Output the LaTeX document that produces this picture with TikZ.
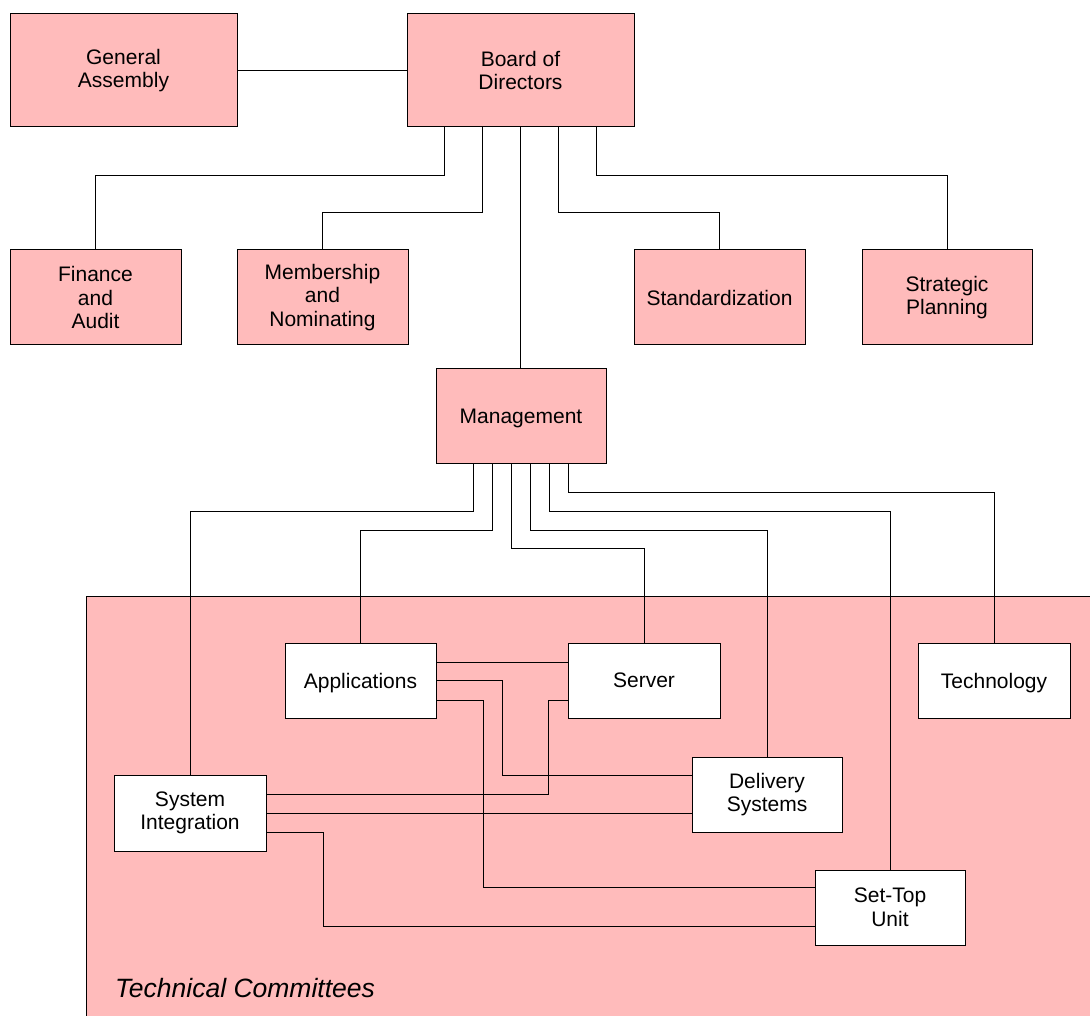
\documentclass[tikz,border=0pt]{standalone}
\usepackage{fontspec}
\setmainfont{Liberation Sans}
\usetikzlibrary{calc}
\definecolor{boxpink}{RGB}{255,187,187}
\tikzset{
  box/.style={draw=black, line width=1pt, align=center, inner sep=0pt,
    font=\fontsize{21}{23.5}\selectfont},
  pinkbox/.style={box, fill=boxpink},
  whitebox/.style={box, fill=white},
  nodepth/.style={text depth=0pt},
  conn/.style={draw=black, line width=1pt},
}
\begin{document}
\begin{tikzpicture}[x=1pt,y=-1pt]
\useasboundingbox (0,0) rectangle (1090,1016);
% Technical committees area
\fill[boxpink] (86,596) rectangle (1100,1030);
\draw[conn] (86,1030) -- (86,596) -- (1100,596);
\node[anchor=base west, font=\fontsize{26.5}{30}\selectfont\itshape, inner sep=0pt] (tclabel) at (115,997) {Technical Committees};

% upper boxes
\node[pinkbox, minimum width=227, minimum height=113] (ga) at (123.5,70.5) {General\\Assembly};
\node[pinkbox, minimum width=227, minimum height=113] (bod) at (520.5,70.5) {Board of\\Directors};
\node[pinkbox, minimum width=171, minimum height=95] (fin) at (95.5,297.5) {Finance\\and\\Audit};
\node[pinkbox, minimum width=171, minimum height=95] (mem) at (322.5,297.5) {Membership\\and\\Nominating};
\node[pinkbox, minimum width=171, minimum height=95] (std) at (719.5,297.5) {Standardization};
\node[pinkbox, minimum width=170, minimum height=95] (sp) at (947,297.5) {Strategic\\Planning};
\node[pinkbox, nodepth, minimum width=170, minimum height=94] (mgmt) at (521,416) {Management};

% committees
\node[whitebox, nodepth, minimum width=151, minimum height=75] (app) at (360.5,680.5) {Applications};
\node[whitebox, minimum width=152, minimum height=75] (srv) at (644,680.5) {Server};
\node[whitebox, nodepth, minimum width=152, minimum height=75] (tech) at (994,680.5) {Technology};
\node[whitebox, minimum width=150, minimum height=75] (del) at (767,794.5) {Delivery\\Systems};
\node[whitebox, minimum width=152, minimum height=76] (si) at (190,813) {System\\Integration};
\node[whitebox, minimum width=150, minimum height=75] (stu) at (890,907.5) {Set-Top\\Unit};

% board connectors
\draw[conn] (ga.east) -- (bod.west);
\draw[conn] ($(bod.south)+(-76,0)$) -- ++(0,48) -| (fin.north);
\draw[conn] ($(bod.south)+(-38,0)$) -- ++(0,85) -| (mem.north);
\draw[conn] (bod.south) -- (bod.south |- mgmt.north);
\draw[conn] ($(bod.south)+(38,0)$) -- ++(0,85) -| (std.north);
\draw[conn] ($(bod.south)+(76,0)$) -- ++(0,48) -| (sp.north);

% management connectors
\draw[conn] ($(mgmt.south)+(-47.5,0)$) -- ++(0,48) -| (si.north);
\draw[conn] ($(mgmt.south)+(-28.5,0)$) -- ++(0,66.5) -| (app.north);
\draw[conn] ($(mgmt.south)+(-9.5,0)$) -- ++(0,85) -| (srv.north);
\draw[conn] ($(mgmt.south)+(9.5,0)$) -- ++(0,66.5) -| (del.north);
\draw[conn] ($(mgmt.south)+(28.5,0)$) -- ++(0,48) -| (stu.north);
\draw[conn] ($(mgmt.south)+(47.5,0)$) -- ++(0,28.5) -| (tech.north);

% committee interconnections
\draw[conn] ($(app.east)+(0,-18.5)$) coordinate (a1) -- (a1 -| srv.west);
\draw[conn] (app.east) -- ++(66,0) |- ($(del.west)+(0,-19.5)$);
\draw[conn] ($(app.east)+(0,19.5)$) -- ++(47,0) |- ($(stu.west)+(0,-20)$);
\draw[conn] ($(srv.west)+(0,19.5)$) -- ++(-19,0) |- ($(si.east)+(0,-19)$);
\draw[conn] (si.east) -- (si.east -| del.west);
\draw[conn] ($(si.east)+(0,19)$) -- ++(57,0) |- ($(stu.west)+(0,18.5)$);
\end{tikzpicture}
\end{document}
